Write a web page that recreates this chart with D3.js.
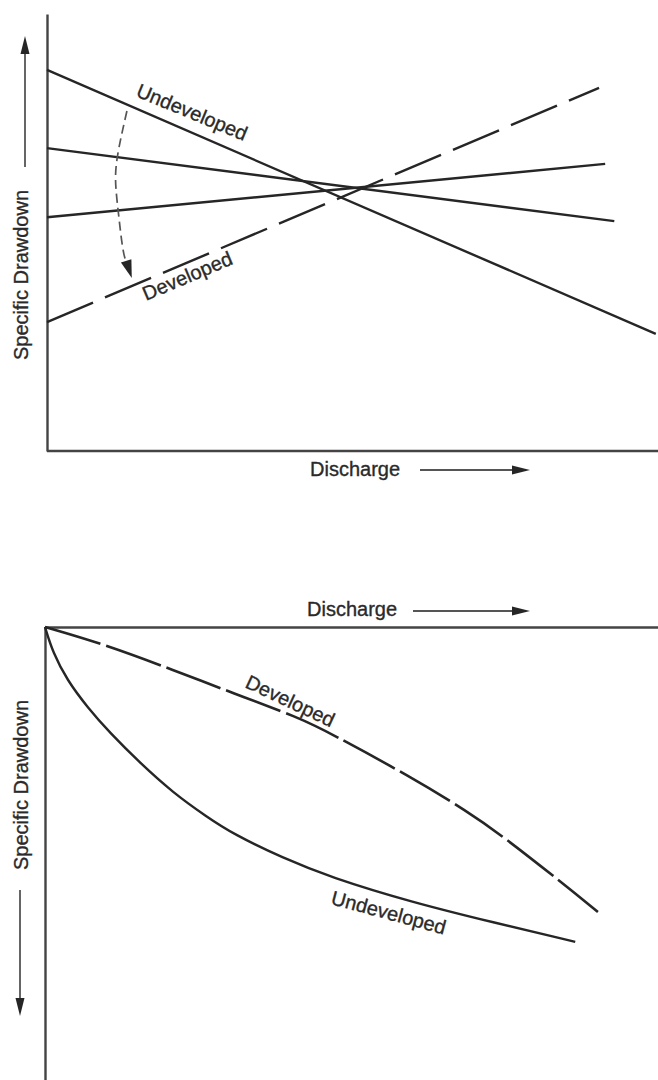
<!DOCTYPE html>
<html>
<head>
<meta charset="utf-8">
<script src="https://cdn.jsdelivr.net/npm/d3@7"></script>
<style>
  html, body { margin: 0; padding: 0; background: #fff; }
  svg { display: block; }
  text { font-family: "Liberation Sans", Arial, Helvetica, sans-serif; fill: #2a2a2a; stroke: #2a2a2a; stroke-width: 0.35px; }
</style>
</head>
<body>
<svg id="chart" width="658" height="1080"></svg>
<script>
// ---------- Top chart: specific drawdown vs discharge (lines) ----------
const topSeriesNames = ["Undeveloped", "Intermediate 1", "Intermediate 2", "Developed"];
const topSeriesDashed = [false, false, false, true];
const topUndeveloped = [[0, 87.2], [99.8, 26.8]];
const topIntermediate1 = [[0, 69.3], [93.0, 52.6]];
const topIntermediate2 = [[0, 53.5], [91.5, 65.7]];
const topDeveloped = [[0, 29.5], [90.5, 83.1]];
const topTransitionArrow = [[13.1, 77.8], [11.5, 67.0], [11.3, 60.2], [11.8, 53.3], [12.6, 45.1], [13.9, 39.6]];

// ---------- Bottom chart: drawdown (downwards) vs discharge (curves) ----------
const bottomDeveloped = [[0, 0], [10.1, 4.0], [20.9, 9.5], [30.7, 14.6], [41.6, 20.1], [46.5, 23.4],
  [59.7, 33.1], [69.0, 40.8], [74.4, 45.9], [84.2, 56.3], [90.2, 62.9]];
const bottomUndeveloped = [[0, 0], [1.3, 5.7], [3.6, 11.7], [6.9, 17.7], [10.6, 23.4], [15.5, 30.0],
  [20.9, 36.6], [26.4, 41.9], [30.7, 45.7], [38.8, 51.0], [46.5, 55.2], [59.7, 60.7], [73.4, 65.3], [86.5, 69.5]];

const xLabel = "Discharge";
const yLabel = "Specific Drawdown";
const labelUndeveloped = "Undeveloped";
const labelDeveloped = "Developed";

const ink = "#262626";
const svg = d3.select("#chart");

function arrowHead(g, tip, angleDeg, len, half) {
  const a = angleDeg * Math.PI / 180;
  const bx = tip[0] - len * Math.cos(a), by = tip[1] - len * Math.sin(a);
  const px = -Math.sin(a) * half, py = Math.cos(a) * half;
  g.append("path")
    .attr("d", `M${tip[0]},${tip[1]}L${bx + px},${by + py}L${bx - px},${by - py}Z`)
    .attr("fill", ink);
}

// ===== TOP =====
const xT = d3.scaleLinear().domain([0, 100]).range([47, 657]);
const yT = d3.scaleLinear().domain([0, 100]).range([451, 14]);
const gT = svg.append("g");

function styleAxis(sel) {
  sel.select(".domain").attr("stroke", "#444").attr("stroke-width", 2.4);
}
gT.append("g").attr("transform", `translate(0,${yT(0)})`)
  .call(d3.axisBottom(xT).tickValues([]).tickSizeOuter(0)).call(styleAxis)
  .select(".domain").attr("d", `M${xT(0)},0H658`);
gT.append("g").attr("transform", `translate(${xT(0)},0)`)
  .call(d3.axisLeft(yT).tickValues([]).tickSizeOuter(0)).call(styleAxis);

const lineT = d3.line().x(d => xT(d[0])).y(d => yT(d[1]));
[topUndeveloped, topIntermediate1, topIntermediate2, topDeveloped].forEach((s, i) => {
  gT.append("path").attr("d", lineT(s))
    .attr("fill", "none").attr("stroke", ink).attr("stroke-width", 2.4)
    .attr("stroke-dasharray", topSeriesDashed[i] ? "50,13" : null);
});

// curved transition arrow
const curveT = d3.line().x(d => xT(d[0])).y(d => yT(d[1])).curve(d3.curveNatural);
gT.append("path").attr("d", curveT(topTransitionArrow.slice(0, -1).concat([[13.6, 42.0]])))
  .attr("fill", "none").attr("stroke", "#555").attr("stroke-width", 1.7)
  .attr("stroke-dasharray", "9,5");
{
  const p1 = topTransitionArrow[topTransitionArrow.length - 2];
  const p2 = topTransitionArrow[topTransitionArrow.length - 1];
  const ang = Math.atan2(yT(p2[1]) - yT(p1[1]), xT(p2[0]) - xT(p1[0])) * 180 / Math.PI;
  arrowHead(gT, [xT(p2[0]), yT(p2[1])], ang, 18, 5.5);
}

// labels
gT.append("text").attr("transform", "translate(135,96) rotate(22.5)")
  .attr("font-size", 20).text(labelUndeveloped);
gT.append("text").attr("transform", "translate(146,301) rotate(-23)")
  .attr("font-size", 20).text(labelDeveloped);

gT.append("text").attr("x", 310).attr("y", 476).attr("font-size", 20).text(xLabel);
gT.append("line").attr("x1", 420).attr("x2", 515).attr("y1", 470).attr("y2", 470)
  .attr("stroke", "#555").attr("stroke-width", 1.8);
arrowHead(gT, [530, 470], 0, 18, 4.5);

gT.append("text").attr("transform", "translate(28,275) rotate(-90)")
  .attr("text-anchor", "middle").attr("font-size", 20).text(yLabel);
gT.append("line").attr("x1", 25).attr("x2", 25).attr("y1", 167).attr("y2", 52)
  .attr("stroke", "#555").attr("stroke-width", 1.8);
arrowHead(gT, [25, 36], -90, 18, 4.5);

// ===== BOTTOM =====
const xB = d3.scaleLinear().domain([0, 100]).range([45, 658]);
const yB = d3.scaleLinear().domain([0, 100]).range([627, 1080]);
const gB = svg.append("g");

gB.append("g").attr("transform", `translate(0,${yB(0)})`)
  .call(d3.axisTop(xB).tickValues([]).tickSizeOuter(0)).call(styleAxis);
gB.append("g").attr("transform", `translate(${xB(0)},0)`)
  .call(d3.axisLeft(yB).tickValues([]).tickSizeOuter(0)).call(styleAxis);

const curveB = d3.line().x(d => xB(d[0])).y(d => yB(d[1])).curve(d3.curveBasis);
gB.append("path").attr("d", curveB(bottomUndeveloped))
  .attr("fill", "none").attr("stroke", ink).attr("stroke-width", 2.4);
gB.append("path").attr("d", curveB(bottomDeveloped))
  .attr("fill", "none").attr("stroke", ink).attr("stroke-width", 2.6)
  .attr("stroke-dasharray", "58,6");

gB.append("text").attr("transform", "translate(244,687) rotate(25)")
  .attr("font-size", 20).text(labelDeveloped);
gB.append("text").attr("transform", "translate(330,904) rotate(15)")
  .attr("font-size", 20).text(labelUndeveloped);

gB.append("text").attr("x", 307).attr("y", 616).attr("font-size", 20).text(xLabel);
gB.append("line").attr("x1", 413).attr("x2", 515).attr("y1", 611).attr("y2", 611)
  .attr("stroke", "#555").attr("stroke-width", 1.8);
arrowHead(gB, [530, 611], 0, 18, 4.5);

gB.append("text").attr("transform", "translate(28,785) rotate(-90)")
  .attr("text-anchor", "middle").attr("font-size", 20).text(yLabel);
gB.append("line").attr("x1", 20).attr("x2", 20).attr("y1", 890).attr("y2", 1000)
  .attr("stroke", "#555").attr("stroke-width", 1.8);
arrowHead(gB, [20, 1016], 90, 18, 4.5);
</script>
</body>
</html>
